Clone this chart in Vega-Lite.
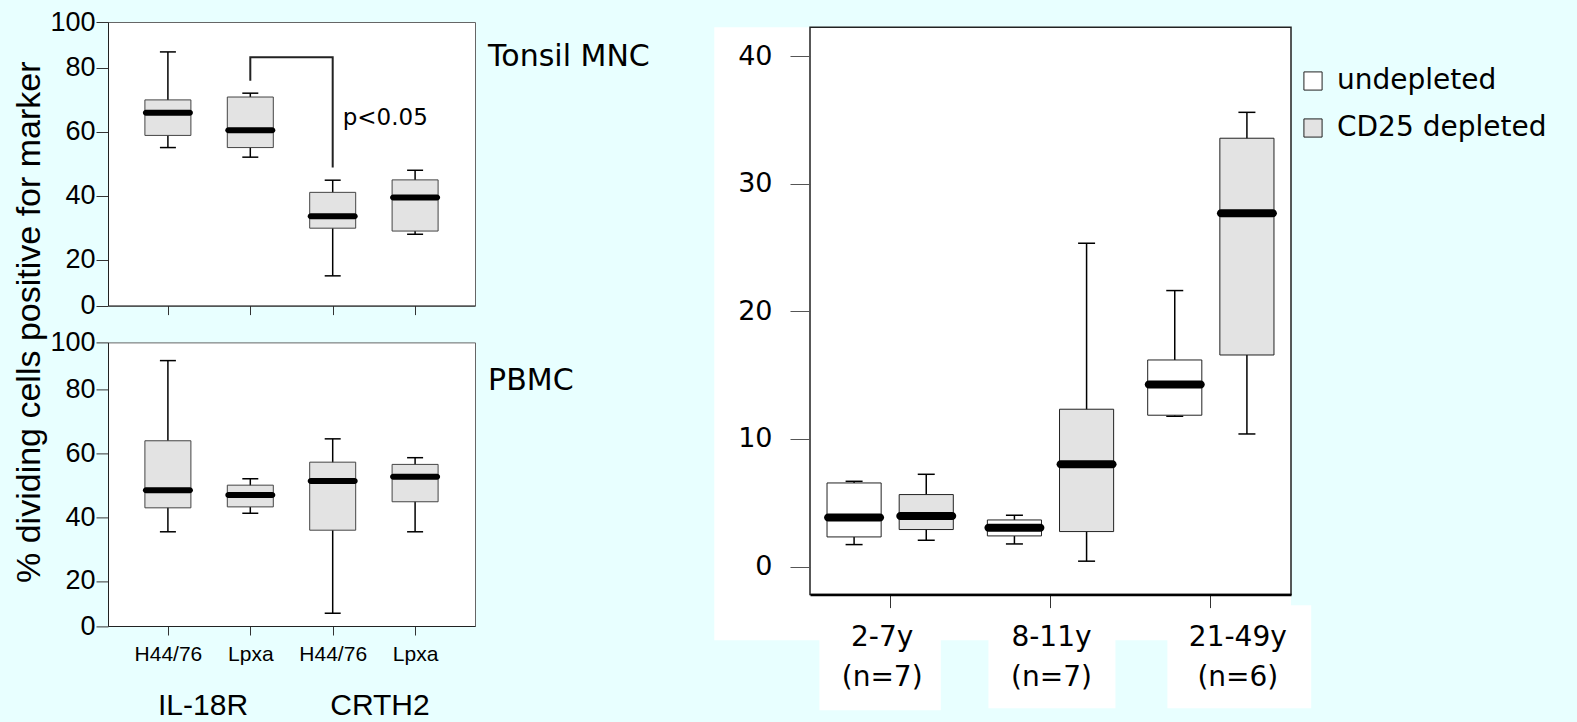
{
  "$schema": "https://vega.github.io/schema/vega-lite/v6.json",
  "background": "#E8FFFF",
  "padding": {"left": 11, "top": 7, "right": 40, "bottom": 5},
  "spacing": 63,
  "datasets": {
    "tonsil": [
      {"cat": "IL-18R H44/76", "lo": 55.0, "q1": 58.8, "med": 65.9, "q3": 69.9, "hi": 84.9},
      {"cat": "IL-18R Lpxa", "lo": 52.0, "q1": 55.0, "med": 60.4, "q3": 70.8, "hi": 72.0},
      {"cat": "CRTH2 H44/76", "lo": 14.9, "q1": 29.8, "med": 33.5, "q3": 41.0, "hi": 44.8},
      {"cat": "CRTH2 Lpxa", "lo": 27.9, "q1": 28.9, "med": 39.4, "q3": 44.9, "hi": 47.9}
    ],
    "pbmc": [
      {"cat": "IL-18R H44/76", "lo": 35.4, "q1": 42.9, "med": 48.4, "q3": 63.9, "hi": 89.0},
      {"cat": "IL-18R Lpxa", "lo": 41.2, "q1": 43.2, "med": 46.9, "q3": 50.0, "hi": 52.0},
      {"cat": "CRTH2 H44/76", "lo": 9.9, "q1": 35.9, "med": 51.3, "q3": 57.2, "hi": 64.5},
      {"cat": "CRTH2 Lpxa", "lo": 35.4, "q1": 44.8, "med": 52.6, "q3": 56.5, "hi": 58.6}
    ],
    "bracket": [
      {"cat": "IL-18R Lpxa", "v": 75.9, "o": 1},
      {"cat": "IL-18R Lpxa", "v": 83.2, "o": 2},
      {"cat": "CRTH2 H44/76", "v": 83.2, "o": 3},
      {"cat": "CRTH2 H44/76", "v": 48.8, "o": 4}
    ],
    "age": [
      {"age": "2-7y (n=7)", "cond": "undepleted", "lo": 1.72, "q1": 2.32, "med": 3.84, "q3": 6.55, "hi": 6.68},
      {"age": "2-7y (n=7)", "cond": "CD25 depleted", "lo": 2.06, "q1": 2.90, "med": 3.97, "q3": 5.64, "hi": 7.23},
      {"age": "8-11y (n=7)", "cond": "undepleted", "lo": 1.77, "q1": 2.40, "med": 3.03, "q3": 3.65, "hi": 4.02},
      {"age": "8-11y (n=7)", "cond": "CD25 depleted", "lo": 0.42, "q1": 2.74, "med": 8.02, "q3": 12.33, "hi": 25.34},
      {"age": "21-49y (n=6)", "cond": "undepleted", "lo": 11.78, "q1": 11.86, "med": 14.26, "q3": 16.19, "hi": 21.63},
      {"age": "21-49y (n=6)", "cond": "CD25 depleted", "lo": 10.39, "q1": 16.58, "med": 27.69, "q3": 33.57, "hi": 35.6}
    ]
  },
  "hconcat": [
    {
      "bounds": "flush",
      "spacing": 36.4,
      "vconcat": [
        {
          "width": 367,
          "height": 283.6,
          "layer": [
            {
              "data": {"name": "tonsil"},
              "layer": [
                {
                  "mark": {"type": "rule", "color": "black", "strokeWidth": 1.5},
                  "encoding": {
                    "x": {"field": "cat", "type": "nominal", "scale": {"type": "point", "domain": ["IL-18R H44/76", "IL-18R Lpxa", "CRTH2 H44/76", "CRTH2 Lpxa"], "padding": 0.727}, "axis": {"title": null, "labels": false, "tickSize": 9, "domainColor": "#222", "tickColor": "#333"}},
                    "y": {"field": "lo", "type": "quantitative", "scale": {"domain": [5.6, 94.25], "nice": false, "zero": false}, "axis": {"title": null, "values": [5.6, 20, 40, 60, 80, 94.25], "labelExpr": "datum.value < 10 ? '0' : datum.value > 90 ? '100' : format(datum.value, 'd')", "tickSize": 12, "labelPadding": 1, "labelFont": "Liberation Sans", "labelFontSize": 27}},
                    "y2": {"field": "hi"}
                  }
                },
                {
                  "mark": {"type": "tick", "color": "black", "opacity": 1, "size": 16, "thickness": 1.5},
                  "encoding": {
                    "x": {"field": "cat", "type": "nominal", "scale": {"type": "point", "domain": ["IL-18R H44/76", "IL-18R Lpxa", "CRTH2 H44/76", "CRTH2 Lpxa"], "padding": 0.727}},
                    "y": {"field": "hi", "type": "quantitative", "scale": {"domain": [5.6, 94.25], "nice": false, "zero": false}}
                  }
                },
                {
                  "mark": {"type": "tick", "color": "black", "opacity": 1, "size": 16, "thickness": 1.5},
                  "encoding": {
                    "x": {"field": "cat", "type": "nominal", "scale": {"type": "point", "domain": ["IL-18R H44/76", "IL-18R Lpxa", "CRTH2 H44/76", "CRTH2 Lpxa"], "padding": 0.727}},
                    "y": {"field": "lo", "type": "quantitative", "scale": {"domain": [5.6, 94.25], "nice": false, "zero": false}}
                  }
                },
                {
                  "mark": {"type": "bar", "width": 46, "fill": "#E3E3E3", "stroke": "#444", "strokeWidth": 1},
                  "encoding": {
                    "x": {"field": "cat", "type": "nominal", "scale": {"type": "point", "domain": ["IL-18R H44/76", "IL-18R Lpxa", "CRTH2 H44/76", "CRTH2 Lpxa"], "padding": 0.727}},
                    "y": {"field": "q1", "type": "quantitative", "scale": {"domain": [5.6, 94.25], "nice": false, "zero": false}},
                    "y2": {"field": "q3"}
                  }
                },
                {
                  "mark": {"type": "tick", "color": "black", "opacity": 1, "size": 50, "thickness": 6, "cornerRadius": 3},
                  "encoding": {
                    "x": {"field": "cat", "type": "nominal", "scale": {"type": "point", "domain": ["IL-18R H44/76", "IL-18R Lpxa", "CRTH2 H44/76", "CRTH2 Lpxa"], "padding": 0.727}},
                    "y": {"field": "med", "type": "quantitative", "scale": {"domain": [5.6, 94.25], "nice": false, "zero": false}}
                  }
                }
              ]
            },
            {
              "data": {"name": "bracket"},
              "mark": {"type": "line", "color": "#222", "strokeWidth": 2, "strokeJoin": "miter"},
              "encoding": {
                "x": {"field": "cat", "type": "nominal", "scale": {"type": "point", "domain": ["IL-18R H44/76", "IL-18R Lpxa", "CRTH2 H44/76", "CRTH2 Lpxa"], "padding": 0.727}},
                "y": {"field": "v", "type": "quantitative", "scale": {"domain": [5.6, 94.25], "nice": false, "zero": false}},
                "order": {"field": "o", "type": "quantitative"}
              }
            },
            {
              "data": {"values": [{}]},
              "mark": {"type": "text", "text": "p<0.05", "align": "left", "baseline": "middle", "dx": 10, "font": "DejaVu Sans", "fontSize": 23},
              "encoding": {
                "x": {"datum": "CRTH2 H44/76", "type": "nominal", "scale": {"type": "point", "domain": ["IL-18R H44/76", "IL-18R Lpxa", "CRTH2 H44/76", "CRTH2 Lpxa"], "padding": 0.727}},
                "y": {"datum": 64.2, "type": "quantitative", "scale": {"domain": [5.6, 94.25], "nice": false, "zero": false}}
              }
            },
            {
              "data": {"values": [{}]},
              "mark": {"type": "text", "text": "Tonsil MNC", "align": "left", "baseline": "middle", "dx": 73, "font": "DejaVu Sans", "fontSize": 30},
              "encoding": {
                "x": {"datum": "CRTH2 Lpxa", "type": "nominal", "scale": {"type": "point", "domain": ["IL-18R H44/76", "IL-18R Lpxa", "CRTH2 H44/76", "CRTH2 Lpxa"], "padding": 0.727}},
                "y": {"datum": 83.3, "type": "quantitative", "scale": {"domain": [5.6, 94.25], "nice": false, "zero": false}}
              }
            }
          ]
        },
        {
          "width": 367,
          "height": 283.6,
          "resolve": {"scale": {"x": "independent"}, "axis": {"x": "independent"}},
          "layer": [
            {
              "layer": [
                {
                  "data": {"name": "pbmc"},
                  "layer": [
                    {
                      "mark": {"type": "rule", "color": "black", "strokeWidth": 1.5},
                      "encoding": {
                        "x": {"field": "cat", "type": "nominal", "scale": {"type": "point", "domain": ["IL-18R H44/76", "IL-18R Lpxa", "CRTH2 H44/76", "CRTH2 Lpxa"], "padding": 0.727}, "axis": {"title": null, "tickSize": 9, "labelExpr": "split(datum.label, ' ')[1]", "labelFont": "Liberation Sans", "labelFontSize": 21, "labelPadding": 8, "labelAngle": 0}},
                        "y": {"field": "lo", "type": "quantitative", "scale": {"domain": [5.9, 94.7], "nice": false, "zero": false}, "axis": {"title": "% dividing cells positive for marker", "titleFont": "Liberation Sans", "titleFontSize": 34, "titleFontWeight": "normal", "titleX": -79, "titleY": -20.7, "titleAlign": "center", "titleBaseline": "middle", "titleAngle": 270, "values": [5.9, 20, 40, 60, 80, 94.7], "labelExpr": "datum.value < 10 ? '0' : datum.value > 90 ? '100' : format(datum.value, 'd')", "tickSize": 12, "labelPadding": 1, "labelFont": "Liberation Sans", "labelFontSize": 27}},
                        "y2": {"field": "hi"}
                      }
                    },
                    {
                      "mark": {"type": "tick", "color": "black", "opacity": 1, "size": 16, "thickness": 1.5},
                      "encoding": {
                        "x": {"field": "cat", "type": "nominal", "scale": {"type": "point", "domain": ["IL-18R H44/76", "IL-18R Lpxa", "CRTH2 H44/76", "CRTH2 Lpxa"], "padding": 0.727}},
                        "y": {"field": "hi", "type": "quantitative", "scale": {"domain": [5.9, 94.7], "nice": false, "zero": false}}
                      }
                    },
                    {
                      "mark": {"type": "tick", "color": "black", "opacity": 1, "size": 16, "thickness": 1.5},
                      "encoding": {
                        "x": {"field": "cat", "type": "nominal", "scale": {"type": "point", "domain": ["IL-18R H44/76", "IL-18R Lpxa", "CRTH2 H44/76", "CRTH2 Lpxa"], "padding": 0.727}},
                        "y": {"field": "lo", "type": "quantitative", "scale": {"domain": [5.9, 94.7], "nice": false, "zero": false}}
                      }
                    },
                    {
                      "mark": {"type": "bar", "width": 46, "fill": "#E3E3E3", "stroke": "#444", "strokeWidth": 1},
                      "encoding": {
                        "x": {"field": "cat", "type": "nominal", "scale": {"type": "point", "domain": ["IL-18R H44/76", "IL-18R Lpxa", "CRTH2 H44/76", "CRTH2 Lpxa"], "padding": 0.727}},
                        "y": {"field": "q1", "type": "quantitative", "scale": {"domain": [5.9, 94.7], "nice": false, "zero": false}},
                        "y2": {"field": "q3"}
                      }
                    },
                    {
                      "mark": {"type": "tick", "color": "black", "opacity": 1, "size": 50, "thickness": 6, "cornerRadius": 3},
                      "encoding": {
                        "x": {"field": "cat", "type": "nominal", "scale": {"type": "point", "domain": ["IL-18R H44/76", "IL-18R Lpxa", "CRTH2 H44/76", "CRTH2 Lpxa"], "padding": 0.727}},
                        "y": {"field": "med", "type": "quantitative", "scale": {"domain": [5.9, 94.7], "nice": false, "zero": false}}
                      }
                    }
                  ]
                },
                {
                  "data": {"values": [{}]},
                  "mark": {"type": "text", "text": "PBMC", "align": "left", "baseline": "middle", "dx": 73, "font": "DejaVu Sans", "fontSize": 30},
                  "encoding": {
                    "x": {"datum": "CRTH2 Lpxa", "type": "nominal", "scale": {"type": "point", "domain": ["IL-18R H44/76", "IL-18R Lpxa", "CRTH2 H44/76", "CRTH2 Lpxa"], "padding": 0.727}},
                    "y": {"datum": 82.5, "type": "quantitative", "scale": {"domain": [5.9, 94.7], "nice": false, "zero": false}}
                  }
                }
              ]
            },
            {
              "data": {"values": [{"group": "IL-18R"}, {"group": "CRTH2"}]},
              "mark": {"type": "text", "baseline": "middle", "dy": 80, "font": "Liberation Sans", "fontSize": 30},
              "encoding": {
                "x": {"field": "group", "type": "nominal", "scale": {"type": "point", "domain": ["IL-18R", "CRTH2"], "padding": 0.537}, "axis": null},
                "y": {"datum": 5.9, "type": "quantitative", "scale": {"domain": [5.9, 94.7], "nice": false, "zero": false}},
                "text": {"field": "group"}
              }
            }
          ]
        }
      ]
    },
    {
      "width": 481,
      "height": 572.6,
      "view": {"stroke": null, "fill": null},
      "resolve": {"scale": {"x": "independent"}, "axis": {"x": "independent"}},
      "layer": [
        {
          "data": {"values": [{}]},
          "layer": [
            {
              "mark": {"type": "rect", "fill": "white"},
              "encoding": {
                "x": {"datum": -0.199, "type": "quantitative", "scale": {"domain": [0, 1], "nice": false, "zero": false}, "axis": null},
                "x2": {"datum": 1},
                "y": {"datum": 42.26, "type": "quantitative", "scale": {"domain": [-2.2, 42.68], "nice": false, "zero": false}},
                "y2": {"datum": -5.78}
              }
            },
            {
              "mark": {"type": "rect", "fill": "white"},
              "encoding": {
                "x": {"datum": 0.0195, "type": "quantitative", "scale": {"domain": [0, 1], "nice": false, "zero": false}, "axis": null},
                "x2": {"datum": 0.272},
                "y": {"datum": -5.7, "type": "quantitative", "scale": {"domain": [-2.2, 42.68], "nice": false, "zero": false}},
                "y2": {"datum": -11.26}
              }
            },
            {
              "mark": {"type": "rect", "fill": "white"},
              "encoding": {
                "x": {"datum": 0.371, "type": "quantitative", "scale": {"domain": [0, 1], "nice": false, "zero": false}, "axis": null},
                "x2": {"datum": 0.635},
                "y": {"datum": -5.7, "type": "quantitative", "scale": {"domain": [-2.2, 42.68], "nice": false, "zero": false}},
                "y2": {"datum": -11.1}
              }
            },
            {
              "mark": {"type": "rect", "fill": "white"},
              "encoding": {
                "x": {"datum": 0.743, "type": "quantitative", "scale": {"domain": [0, 1], "nice": false, "zero": false}, "axis": null},
                "x2": {"datum": 1.042},
                "y": {"datum": -3.03, "type": "quantitative", "scale": {"domain": [-2.2, 42.68], "nice": false, "zero": false}},
                "y2": {"datum": -11.1}
              }
            },
            {
              "mark": {"type": "rect", "fill": "transparent", "stroke": "#222", "strokeWidth": 1.5},
              "encoding": {
                "x": {"datum": 0, "type": "quantitative", "scale": {"domain": [0, 1], "nice": false, "zero": false}, "axis": null},
                "x2": {"datum": 1},
                "y": {"datum": 42.26, "type": "quantitative", "scale": {"domain": [-2.2, 42.68], "nice": false, "zero": false}},
                "y2": {"datum": -2.2}
              }
            }
          ]
        },
        {
          "data": {"name": "age"},
          "layer": [
            {
              "mark": {"type": "rule", "color": "black", "strokeWidth": 1.5},
              "encoding": {
                "x": {"field": "age", "type": "nominal", "scale": {"type": "band", "domain": ["2-7y (n=7)", "8-11y (n=7)", "21-49y (n=6)"], "paddingInner": 0, "paddingOuter": 0}, "axis": {"title": null, "orient": "bottom", "tickSize": 13, "tickColor": "#333", "domainColor": "black", "domainWidth": 2.5, "labelExpr": "split(datum.label, ' ')", "labelFont": "DejaVu Sans", "labelFontSize": 28, "labelLineHeight": 40, "labelPadding": 16, "labelAngle": 0, "labelBaseline": "top", "labelOffset": {"condition": [{"test": "datum.value === '2-7y (n=7)'", "value": -8}, {"test": "datum.value === '21-49y (n=6)'", "value": 27}], "value": 1}, "zindex": 1}},
                "xOffset": {"field": "cond", "type": "nominal", "scale": {"type": "band", "domain": ["undepleted", "CD25 depleted"], "paddingInner": 0.25, "paddingOuter": 0.236}},
                "y": {"field": "lo", "type": "quantitative", "scale": {"domain": [-2.2, 42.68], "nice": false, "zero": false}, "axis": {"title": null, "values": [0, 10, 20, 30, 40], "domain": false, "tickSize": 20, "tickColor": "#555", "labelPadding": 18, "labelFont": "DejaVu Sans", "labelFontSize": 27, "zindex": 1}},
                "y2": {"field": "hi"}
              }
            },
            {
              "mark": {"type": "tick", "color": "black", "opacity": 1, "size": 17, "thickness": 1.5},
              "encoding": {
                "x": {"field": "age", "type": "nominal", "scale": {"type": "band", "domain": ["2-7y (n=7)", "8-11y (n=7)", "21-49y (n=6)"], "paddingInner": 0, "paddingOuter": 0}},
                "xOffset": {"field": "cond", "type": "nominal", "scale": {"type": "band", "domain": ["undepleted", "CD25 depleted"], "paddingInner": 0.25, "paddingOuter": 0.236}},
                "y": {"field": "hi", "type": "quantitative", "scale": {"domain": [-2.2, 42.68], "nice": false, "zero": false}}
              }
            },
            {
              "mark": {"type": "tick", "color": "black", "opacity": 1, "size": 17, "thickness": 1.5},
              "encoding": {
                "x": {"field": "age", "type": "nominal", "scale": {"type": "band", "domain": ["2-7y (n=7)", "8-11y (n=7)", "21-49y (n=6)"], "paddingInner": 0, "paddingOuter": 0}},
                "xOffset": {"field": "cond", "type": "nominal", "scale": {"type": "band", "domain": ["undepleted", "CD25 depleted"], "paddingInner": 0.25, "paddingOuter": 0.236}},
                "y": {"field": "lo", "type": "quantitative", "scale": {"domain": [-2.2, 42.68], "nice": false, "zero": false}}
              }
            },
            {
              "mark": {"type": "bar", "stroke": "#222", "strokeWidth": 1},
              "encoding": {
                "x": {"field": "age", "type": "nominal", "scale": {"type": "band", "domain": ["2-7y (n=7)", "8-11y (n=7)", "21-49y (n=6)"], "paddingInner": 0, "paddingOuter": 0}},
                "xOffset": {"field": "cond", "type": "nominal", "scale": {"type": "band", "domain": ["undepleted", "CD25 depleted"], "paddingInner": 0.25, "paddingOuter": 0.236}},
                "y": {"field": "q1", "type": "quantitative", "scale": {"domain": [-2.2, 42.68], "nice": false, "zero": false}},
                "y2": {"field": "q3"},
                "fill": {"field": "cond", "type": "nominal", "scale": {"domain": ["undepleted", "CD25 depleted"], "range": ["white", "#E3E3E3"]}, "legend": {"title": null, "orient": "none", "legendX": 1191, "legendY": 45, "padding": 0, "symbolType": "square", "symbolSize": 330, "symbolStrokeColor": "#222", "symbolStrokeWidth": 1, "labelFont": "DejaVu Sans", "labelFontSize": 28, "labelColor": "black", "labelOffset": 10, "labelLimit": 400, "rowPadding": 19}}
              }
            },
            {
              "mark": {"type": "tick", "color": "black", "opacity": 1, "size": 60, "thickness": 8, "cornerRadius": 4},
              "encoding": {
                "x": {"field": "age", "type": "nominal", "scale": {"type": "band", "domain": ["2-7y (n=7)", "8-11y (n=7)", "21-49y (n=6)"], "paddingInner": 0, "paddingOuter": 0}},
                "xOffset": {"field": "cond", "type": "nominal", "scale": {"type": "band", "domain": ["undepleted", "CD25 depleted"], "paddingInner": 0.25, "paddingOuter": 0.236}},
                "y": {"field": "med", "type": "quantitative", "scale": {"domain": [-2.2, 42.68], "nice": false, "zero": false}}
              }
            }
          ]
        }
      ]
    }
  ],
  "config": {
    "font": "Liberation Sans",
    "view": {"stroke": "#666", "strokeWidth": 1, "fill": "white"},
    "axis": {"labelColor": "black", "titleColor": "black", "domainColor": "#222", "tickColor": "#333", "grid": false, "labelFlush": false, "labelOverlap": false},
    "text": {"color": "black"}
  }
}
